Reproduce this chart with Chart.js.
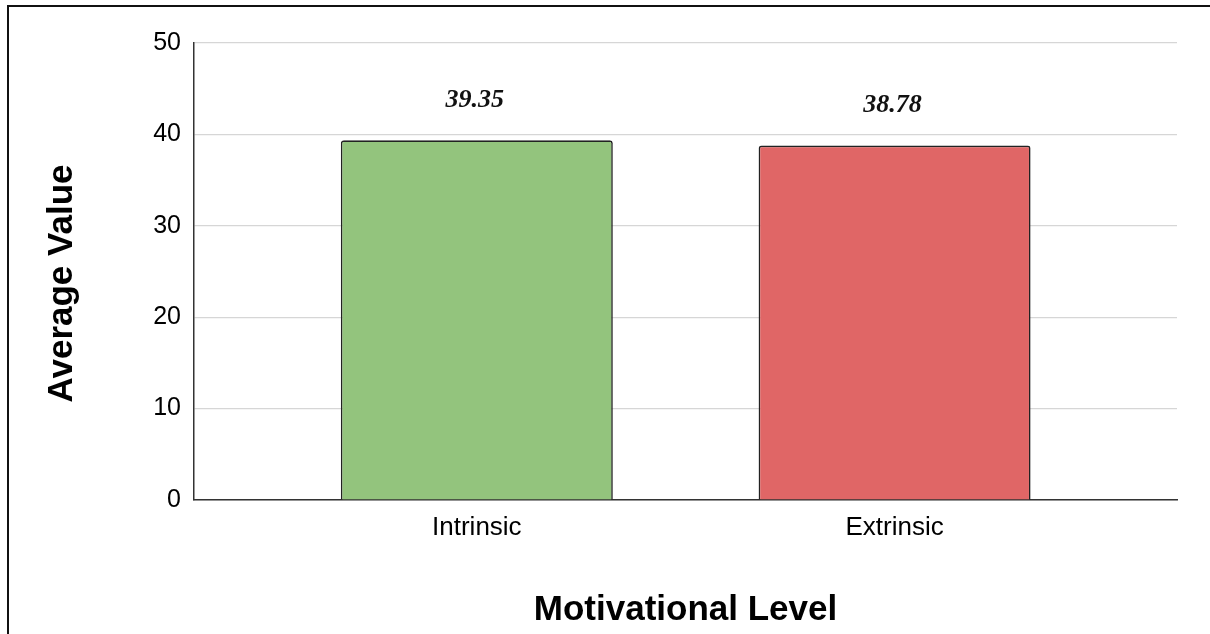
<!DOCTYPE html>
<html>
<head>
<meta charset="utf-8">
<script src="https://cdn.jsdelivr.net/npm/chart.js@4/dist/chart.umd.min.js"></script>
<style>
  html, body { margin: 0; padding: 0; background: #fff; overflow: hidden; }
  #wrap { position: relative; width: 1210px; height: 634px; }
  #frame {
    position: absolute; left: 7px; top: 5px; width: 1400px; height: 800px;
    border: 2px solid #111; box-sizing: border-box; pointer-events: none;
  }
  canvas { position: absolute; left: 0; top: 0; }
</style>
</head>
<body>
<div id="wrap">
  <canvas id="chart" width="1210" height="634"></canvas>
  <div id="frame"></div>
</div>
<script>
// Motivation survey: average scores per motivational level
const categories = ['Intrinsic', 'Extrinsic'];
const averages = [39.35, 38.78];
const barColors = ['#93c47d', '#e06666'];
const yTicks = [0, 10, 20, 30, 40, 50];
const yTitle = 'Average Value';
const xTitle = 'Motivational Level';

const sansFont = "'Liberation Sans', Arial, sans-serif";

// Writes each bar's value above it in bold italic serif
const valueLabels = {
  id: 'valueLabels',
  afterDatasetsDraw(chart) {
    const ctx = chart.ctx;
    const meta = chart.getDatasetMeta(0);
    ctx.save();
    ctx.font = "italic bold 26px 'Liberation Serif', 'Times New Roman', serif";
    ctx.fillStyle = '#111';
    ctx.textAlign = 'center';
    ctx.textBaseline = 'middle';
    meta.data.forEach((bar, i) => {
      ctx.fillText(averages[i].toFixed(2), bar.x - 2, bar.y - 40);
    });
    ctx.restore();
  }
};

// Vertical y-axis title, sitting a little below the plot's middle
const yAxisTitle = {
  id: 'yAxisTitle',
  afterDraw(chart) {
    const ctx = chart.ctx;
    const area = chart.chartArea;
    ctx.save();
    ctx.translate(62, (area.top + area.bottom) / 2 + 12);
    ctx.rotate(-Math.PI / 2);
    ctx.font = "bold 35px " + sansFont;
    ctx.fillStyle = '#000';
    ctx.textAlign = 'center';
    ctx.textBaseline = 'middle';
    ctx.fillText(yTitle, 0, 0);
    ctx.restore();
  }
};

new Chart(document.getElementById('chart'), {
  type: 'bar',
  data: {
    datasets: [{
      data: averages.map((v, i) => ({ x: i, y: v })),
      backgroundColor: barColors,
      borderColor: '#222',
      borderWidth: 1.6,
      borderRadius: 3,
      categoryPercentage: 1,
      barPercentage: 0.651
    }]
  },
  options: {
    responsive: false,
    animation: false,
    layout: { padding: { top: 43, right: 33, bottom: 0, left: 0 } },
    plugins: { legend: { display: false }, tooltip: { enabled: false } },
    scales: {
      x: {
        type: 'linear',
        offset: false,
        min: -0.677,
        max: 1.676,
        afterBuildTicks(scale) { scale.ticks = categories.map((c, i) => ({ value: i })); },
        afterFit(scale) { scale.height = 134; },
        grid: { display: false, drawTicks: false, offset: false },
        border: { display: true, color: '#333', width: 1.5 },
        ticks: {
          padding: 12,
          color: '#000',
          font: { family: sansFont, size: 26 },
          callback: (v) => categories[v]
        },
        title: {
          display: true,
          text: xTitle,
          color: '#000',
          font: { family: sansFont, size: 35, weight: 'bold' },
          padding: { top: 3, bottom: 3 }
        }
      },
      y: {
        min: 0,
        max: 50,
        afterBuildTicks(scale) { scale.ticks = yTicks.map(v => ({ value: v })); },
        afterFit(scale) { scale.width = 194; },
        grid: { color: '#d6d6d6', lineWidth: 1.2, drawTicks: false },
        border: { display: true, color: '#333', width: 1.5 },
        ticks: {
          padding: 13,
          color: '#000',
          font: { family: sansFont, size: 25 }
        },
        title: { display: false }
      }
    }
  },
  plugins: [valueLabels, yAxisTitle]
});
</script>
</body>
</html>
